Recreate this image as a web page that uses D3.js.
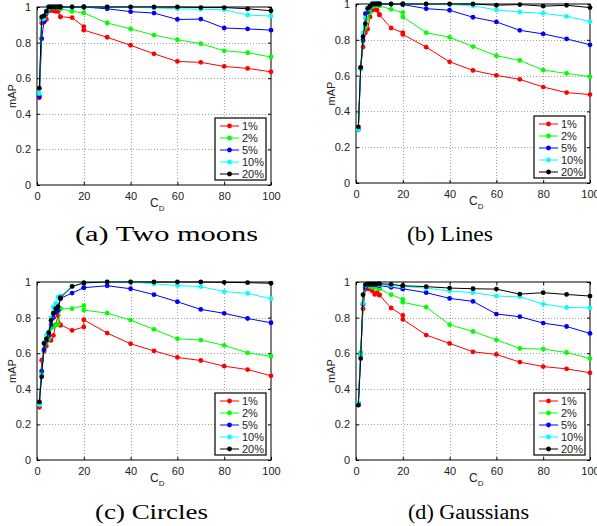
<!DOCTYPE html>
<html>
<head>
<meta charset="utf-8">
<script src="https://cdn.jsdelivr.net/npm/d3@7"></script>
<style>
  body { margin: 0; background: #fff; }
  svg { display: block; }
</style>
</head>
<body>
<div id="container"></div>
<script>
// x positions (C_D); 10 and 20 appear twice in the runs
var cd = [1, 2, 3, 4, 5, 6, 7, 8, 9, 10, 10, 15, 20, 20, 30, 40, 50, 60, 70, 80, 90, 100];
var rates = ["1%", "2%", "5%", "10%", "20%"];
var xTicks = [0, 20, 40, 60, 80, 100];
var yTicks = [0, 0.2, 0.4, 0.6, 0.8, 1];

// one row per rate: 1%, 2%, 5%, 10%, 20%
var twoMoons = [
  [0.49, 0.91, 0.915, 0.93, 0.98, 0.98, 0.98, 0.975, 0.975, 0.945, 0.945, 0.94, 0.89, 0.87, 0.83, 0.785, 0.737, 0.694, 0.689, 0.666, 0.655, 0.636],
  [0.50, 0.93, 0.95, 0.975, 0.99, 0.995, 0.995, 0.995, 0.995, 0.99, 0.99, 0.975, 0.967, 0.967, 0.91, 0.877, 0.842, 0.816, 0.794, 0.754, 0.743, 0.719],
  [0.497, 0.822, 0.92, 0.965, 1, 1, 1, 1, 1, 1, 1, 1, 1, 1, 0.99, 0.974, 0.966, 0.93, 0.932, 0.882, 0.877, 0.87],
  [0.514, 0.93, 0.935, 0.97, 1, 1, 1, 1, 1, 1, 1, 1, 1, 1, 1, 0.998, 0.995, 0.99, 0.987, 0.985, 0.955, 0.949],
  [0.544, 0.944, 0.95, 0.975, 1, 1, 1, 1, 1, 1, 1, 1, 1, 1, 1, 1, 1, 1, 0.997, 0.997, 0.99, 0.979]
];
var lines = [
  [0.30, 0.647, 0.76, 0.839, 0.86, 0.928, 0.965, 0.97, 0.965, 0.94, 0.94, 0.866, 0.84, 0.83, 0.759, 0.677, 0.629, 0.601, 0.579, 0.536, 0.505, 0.494],
  [0.30, 0.64, 0.79, 0.87, 0.92, 0.95, 0.985, 0.99, 0.995, 0.99, 0.99, 0.97, 0.952, 0.928, 0.84, 0.814, 0.762, 0.711, 0.685, 0.631, 0.612, 0.594],
  [0.30, 0.64, 0.80, 0.946, 0.955, 0.985, 1, 1, 1, 1, 1, 0.998, 0.997, 0.997, 0.974, 0.965, 0.926, 0.90, 0.853, 0.833, 0.805, 0.772],
  [0.30, 0.635, 0.84, 0.92, 0.97, 0.995, 1, 1, 1, 1, 1, 1, 1, 1, 1, 0.997, 0.99, 0.967, 0.955, 0.948, 0.931, 0.902],
  [0.314, 0.645, 0.818, 0.89, 0.976, 0.99, 1, 1, 1, 1, 1, 1, 1, 1, 1, 1, 1, 0.993, 0.997, 0.988, 0.993, 0.98]
];
var circles = [
  [0.296, 0.561, 0.61, 0.64, 0.68, 0.672, 0.70, 0.76, 0.812, 0.756, 0.76, 0.728, 0.747, 0.788, 0.713, 0.653, 0.613, 0.576, 0.559, 0.527, 0.508, 0.473],
  [0.32, 0.48, 0.62, 0.66, 0.68, 0.74, 0.75, 0.76, 0.762, 0.85, 0.85, 0.85, 0.867, 0.842, 0.825, 0.786, 0.734, 0.681, 0.674, 0.644, 0.602, 0.583],
  [0.32, 0.499, 0.62, 0.67, 0.70, 0.76, 0.80, 0.83, 0.84, 0.908, 0.908, 0.938, 0.968, 0.968, 0.979, 0.962, 0.929, 0.889, 0.846, 0.824, 0.795, 0.771],
  [0.31, 0.48, 0.66, 0.70, 0.72, 0.80, 0.86, 0.88, 0.915, 0.92, 0.92, 0.975, 0.995, 0.995, 1, 1, 0.99, 0.98, 0.974, 0.946, 0.936, 0.906],
  [0.326, 0.467, 0.655, 0.68, 0.715, 0.784, 0.825, 0.85, 0.862, 0.91, 0.91, 0.975, 0.995, 0.995, 1, 1, 1, 1, 1, 0.998, 0.996, 0.993]
];
var gaussians = [
  [0.31, 0.59, 0.85, 0.96, 0.962, 0.96, 0.95, 0.93, 0.94, 0.927, 0.927, 0.854, 0.812, 0.79, 0.702, 0.655, 0.608, 0.593, 0.55, 0.525, 0.512, 0.49],
  [0.32, 0.605, 0.88, 0.975, 0.98, 0.975, 0.97, 0.97, 0.97, 0.962, 0.962, 0.929, 0.902, 0.886, 0.859, 0.76, 0.722, 0.675, 0.627, 0.623, 0.604, 0.57],
  [0.32, 0.59, 0.875, 0.97, 0.985, 0.985, 0.985, 0.985, 0.985, 0.98, 0.98, 0.97, 0.962, 0.962, 0.94, 0.908, 0.891, 0.82, 0.805, 0.769, 0.75, 0.711],
  [0.32, 0.59, 0.88, 0.98, 0.99, 0.99, 0.99, 0.99, 0.99, 0.985, 0.985, 0.98, 0.975, 0.975, 0.966, 0.949, 0.94, 0.921, 0.917, 0.876, 0.857, 0.855],
  [0.308, 0.57, 0.929, 0.985, 0.99, 0.99, 0.99, 0.99, 0.99, 0.99, 0.99, 0.987, 0.979, 0.979, 0.974, 0.966, 0.962, 0.96, 0.932, 0.94, 0.93, 0.921]
];

var colors = ["#ff0000", "#00ff00", "#0000ff", "#00ffff", "#000000"];

var panels = [
  {data: twoMoons,  caption: "(a) Two moons", left: 37,  top: 7,   right: 271, bottom: 185, capX: 75,  capY: 241, capW: 183},
  {data: lines,     caption: "(b) Lines",     left: 356, top: 4,   right: 590, bottom: 183, capX: 407, capY: 241, capW: 86},
  {data: circles,   caption: "(c) Circles",   left: 37,  top: 282, right: 271, bottom: 460, capX: 95,  capY: 519, capW: 113},
  {data: gaussians, caption: "(d) Gaussians", left: 356, top: 282, right: 590, bottom: 460, capX: 408, capY: 519, capW: 121}
];

var svg = d3.select("#container").append("svg")
  .attr("width", 597)
  .attr("height", 526);

var tickFont = "'Liberation Sans', Arial, sans-serif";

panels.forEach(function(p) {
  var x = d3.scaleLinear().domain([0, 100]).range([p.left, p.right]);
  var y = d3.scaleLinear().domain([0, 1]).range([p.bottom, p.top]);
  var g = svg.append("g");

  // dotted grid
  g.selectAll(".gx").data(xTicks.slice(1, -1)).enter().append("line")
    .attr("x1", function(d) { return Math.round(x(d)) + 0.5; })
    .attr("x2", function(d) { return Math.round(x(d)) + 0.5; })
    .attr("y1", p.top).attr("y2", p.bottom)
    .attr("stroke", "#a0a0a0").attr("stroke-dasharray", "1,2");
  g.selectAll(".gy").data(yTicks.slice(1, -1)).enter().append("line")
    .attr("y1", function(d) { return Math.round(y(d)) + 0.5; })
    .attr("y2", function(d) { return Math.round(y(d)) + 0.5; })
    .attr("x1", p.left).attr("x2", p.right)
    .attr("stroke", "#a0a0a0").attr("stroke-dasharray", "1,2");

  // axes with inward ticks
  var xAxis = g.append("g")
    .attr("transform", "translate(0," + p.bottom + ")")
    .call(d3.axisBottom(x).tickValues(xTicks).tickSizeInner(-3).tickSizeOuter(0).tickPadding(7));
  var yAxis = g.append("g")
    .attr("transform", "translate(" + p.left + ",0)")
    .call(d3.axisLeft(y).tickValues(yTicks).tickFormat(d3.format("~g")).tickSizeInner(-3).tickSizeOuter(0).tickPadding(6));
  g.append("g")
    .attr("transform", "translate(0," + p.top + ")")
    .call(d3.axisTop(x).tickValues(xTicks).tickSizeInner(-3).tickSizeOuter(0).tickFormat(""));
  g.append("g")
    .attr("transform", "translate(" + p.right + ",0)")
    .call(d3.axisRight(y).tickValues(yTicks).tickSizeInner(-3).tickSizeOuter(0).tickFormat(""));
  g.selectAll(".domain").attr("stroke", "none");
  g.selectAll(".tick line").attr("stroke", "#000");
  g.selectAll(".tick text").attr("font-family", tickFont).attr("font-size", 11).attr("fill", "#222");

  // box
  g.append("rect")
    .attr("x", p.left).attr("y", p.top)
    .attr("width", p.right - p.left).attr("height", p.bottom - p.top)
    .attr("fill", "none").attr("stroke", "#000").attr("stroke-width", 1);

  // series, black on top
  var line = d3.line()
    .x(function(d, i) { return x(cd[i]); })
    .y(function(d) { return y(d); });
  p.data.forEach(function(vals, k) {
    g.append("path")
      .attr("d", line(vals))
      .attr("fill", "none")
      .attr("stroke", colors[k])
      .attr("stroke-width", 1);
    g.selectAll(".dot" + k).data(vals).enter().append("circle")
      .attr("cx", function(d, i) { return x(cd[i]); })
      .attr("cy", function(d) { return y(d); })
      .attr("r", 2.4)
      .attr("fill", colors[k]);
  });

  // axis labels
  var ylab = g.append("text")
    .attr("transform", "translate(" + (p.left - 21) + "," + ((p.top + p.bottom) / 2) + ") rotate(-90)")
    .attr("text-anchor", "middle")
    .attr("font-family", tickFont).attr("font-size", 11).attr("fill", "#222")
    .text("mAP");
  var xlab = g.append("text")
    .attr("x", (p.left + p.right) / 2 - 4)
    .attr("y", p.bottom + 22)
    .attr("font-family", tickFont).attr("font-size", 12).attr("fill", "#222");
  xlab.append("tspan").text("C");
  xlab.append("tspan").attr("font-size", 8).attr("dy", 4).text("D");

  // legend
  var lw = 51, lh = 62;
  var lx = p.right - 5 - lw, ly = p.bottom - 5 - lh;
  var leg = g.append("g").attr("transform", "translate(" + lx + "," + ly + ")");
  leg.append("rect")
    .attr("width", lw).attr("height", lh)
    .attr("fill", "#fff").attr("stroke", "#000").attr("stroke-width", 1.2);
  rates.forEach(function(r, k) {
    var ry = 8 + k * 12;
    leg.append("line")
      .attr("x1", 5).attr("x2", 24).attr("y1", ry).attr("y2", ry)
      .attr("stroke", colors[k]).attr("stroke-width", 1);
    leg.append("circle").attr("cx", 14.5).attr("cy", ry).attr("r", 2.4).attr("fill", colors[k]);
    leg.append("text")
      .attr("x", 27).attr("y", ry + 4)
      .attr("font-family", tickFont).attr("font-size", 11).attr("fill", "#222")
      .text(r);
  });

  // caption
  svg.append("text")
    .attr("x", p.capX).attr("y", p.capY)
    .attr("font-family", "'Liberation Serif', 'DejaVu Serif', serif")
    .attr("font-size", 20)
    .attr("textLength", p.capW)
    .attr("lengthAdjust", "spacingAndGlyphs")
    .attr("fill", "#000")
    .text(p.caption);
});
</script>
</body>
</html>
